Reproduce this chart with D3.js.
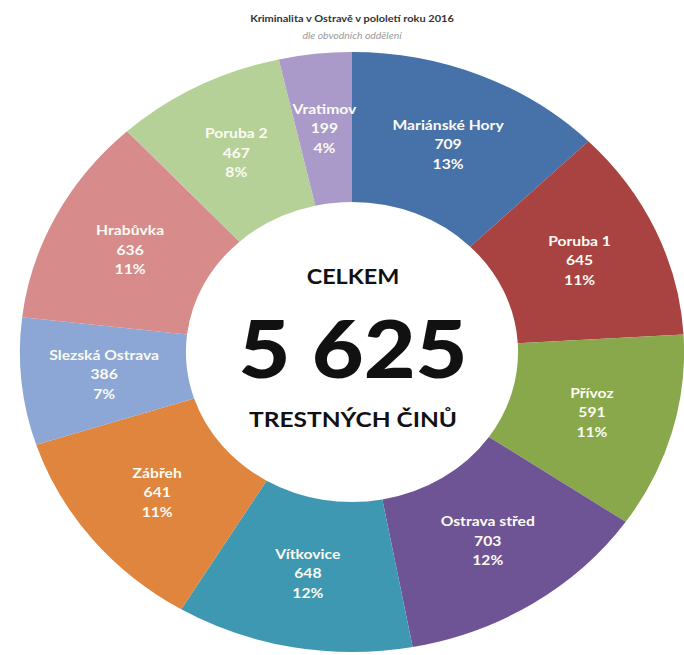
<!DOCTYPE html>
<html>
<head>
<meta charset="utf-8">
<script src="https://cdn.jsdelivr.net/npm/d3@7"></script>
<style>
  html, body { margin: 0; padding: 0; background: #ffffff; }
  svg { display: block; }
</style>
</head>
<body>
<svg id="chart" width="684" height="655"></svg>
<script>
const categories = ["Mariánské Hory", "Poruba 1", "Přívoz", "Ostrava střed", "Vítkovice", "Zábřeh", "Slezská Ostrava", "Hrabůvka", "Poruba 2", "Vratimov"];
const values = [709, 645, 591, 703, 648, 641, 386, 636, 467, 199];
const percentLabels = ["13%", "11%", "11%", "12%", "12%", "11%", "7%", "11%", "8%", "4%"];
const colors = ["#4771a9", "#a94341", "#88a84b", "#6f5495", "#3f98b1", "#e0853d", "#8ca6d5", "#d78b8b", "#b6d198", "#a99ac9"];
const titleText = "Kriminalita v Ostravě v pololetí roku 2016";
const subtitleText = "dle obvodních oddělení";
const centerTop = "CELKEM";
const centerTotal = "5 625";
const centerBottom = "TRESTNÝCH ČINŮ";

const svg = d3.select("#chart");
const cx = 352, cy = 352, sx = 1.107;
const innerR = 150, outerR = 300;
const FONT = "Lato, 'Open Sans', sans-serif";

const pie = d3.pie().sort(null).value(d => d)(values);
const arc = d3.arc().innerRadius(innerR).outerRadius(outerR);

const g = svg.append("g").attr("transform", `translate(${cx},${cy}) scale(${sx},1)`);
g.selectAll("path").data(pie).join("path")
  .attr("d", arc)
  .attr("fill", (d, i) => colors[i]);

const lg = svg.append("g").attr("transform", `translate(${cx},${cy})`);
const labels = lg.selectAll("g.lab").data(pie).join("g")
  .attr("class", "lab")
  .attr("transform", d => { const c = arc.centroid(d); return `translate(${c[0] * sx},${c[1]}) scale(1.12,1)`; });
labels.each(function(d, i) {
  const t = d3.select(this).append("text")
    .attr("text-anchor", "middle")
    .attr("fill", "#fbfbf3")
    .attr("font-family", FONT)
    .attr("font-weight", "bold")
    .attr("font-size", 14);
  [categories[i], String(values[i]), percentLabels[i]].forEach((s, k) => {
    t.append("tspan").attr("x", 0).attr("y", (k - 1) * 19.5).attr("dy", "0.35em").text(s);
  });
});

// Center text
function stretchedText(x, y, size, weight, txt, fill, style, scale) {
  svg.append("g").attr("transform", `translate(${x},${y}) scale(${scale},1)`)
    .append("text").attr("text-anchor", "middle")
    .attr("font-family", FONT).attr("font-weight", weight)
    .attr("font-style", style || "normal")
    .attr("font-size", size).attr("fill", fill).text(txt);
}
stretchedText(cx + 1, 284, 20, "bold", centerTop, "#111", null, 1.17);
stretchedText(cx + 1, 378, 80, 900, centerTotal, "#111", null, 1.12);
stretchedText(cx + 1, 427, 21.5, "bold", centerBottom, "#111", null, 1.14);

// Title
stretchedText(352, 22, 10, "bold", titleText, "#333", null, 1.1);
stretchedText(352, 39, 9.5, "normal", subtitleText, "#9a9a9a", "italic", 1.1);
</script>
</body>
</html>
